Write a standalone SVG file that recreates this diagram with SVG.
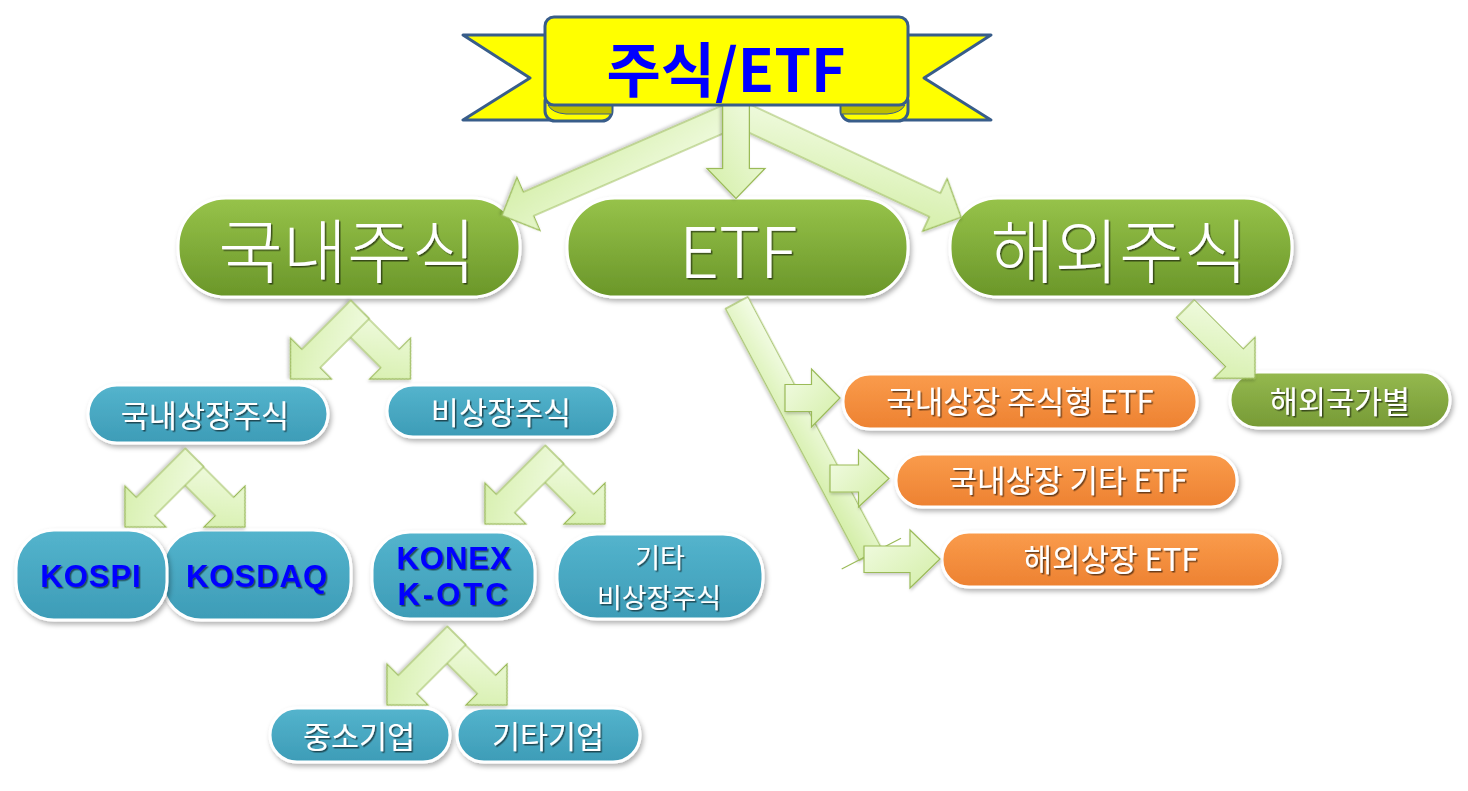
<svg xmlns="http://www.w3.org/2000/svg" width="1468" height="791" viewBox="0 0 1468 791">
<defs>
<linearGradient id="gGreen" x1="0" y1="0" x2="0" y2="1"><stop offset="0" stop-color="#97c34a"/><stop offset="1" stop-color="#6a9629"/></linearGradient>
<linearGradient id="gGreen2" x1="0" y1="0" x2="0" y2="1"><stop offset="0" stop-color="#95b94f"/><stop offset="1" stop-color="#769a35"/></linearGradient>
<linearGradient id="gBlue" x1="0" y1="0" x2="0" y2="1"><stop offset="0" stop-color="#54b4cd"/><stop offset="1" stop-color="#3d9cb7"/></linearGradient>
<linearGradient id="gOrange" x1="0" y1="0" x2="0" y2="1"><stop offset="0" stop-color="#fa9c4c"/><stop offset="1" stop-color="#ed8131"/></linearGradient>
<linearGradient id="gArrow" x1="0" y1="0" x2="1" y2="1"><stop offset="0" stop-color="#f3fce6"/><stop offset="1" stop-color="#d3eea6"/></linearGradient>
<filter id="nodeShadow" x="-10%" y="-20%" width="125%" height="150%"><feDropShadow dx="2" dy="3" stdDeviation="2.5" flood-color="#000" flood-opacity="0.3"/></filter>
<filter id="txtShadow" x="-5%" y="-10%" width="115%" height="130%"><feDropShadow dx="1.5" dy="1.5" stdDeviation="0.7" flood-color="#000" flood-opacity="0.55"/></filter>
<filter id="arrShadow" x="-10%" y="-10%" width="130%" height="130%"><feDropShadow dx="1" dy="2" stdDeviation="1.5" flood-color="#000" flood-opacity="0.2"/></filter>
<path id="splitR" d="M0,-13 H49.5 V-29 L78.5,0 L49.5,29 V13 H0 Z"/>
<path id="splitL" d="M0,-13 H69.3 V-29 L98.3,0 L69.3,29 V13 H0 Z"/>
</defs>
<style>
.node{stroke:#fff;stroke-width:3;filter:url(#nodeShadow)}
.green{fill:url(#gGreen)}
.green2{fill:url(#gGreen2)}
.blue{fill:url(#gBlue)}
.orange{fill:url(#gOrange)}
.lbl{font-family:"Noto Sans CJK KR","Noto Sans",sans-serif;fill:#fff;text-anchor:middle;dominant-baseline:central;filter:url(#txtShadow)}
.big{font-size:70px;font-weight:300}
.mid{font-size:30.5px}
.two{font-size:27px}
.ora{font-size:31px}
.bold{font-family:"Liberation Sans",Arial,sans-serif;font-weight:bold;fill:#0000ff;font-size:31px;text-anchor:middle;letter-spacing:1px;filter:url(#txtShadow)}
.arr{fill:url(#gArrow);stroke:#9bbb59;stroke-width:1.2;filter:url(#arrShadow)}
.ban{fill:#ffff00;stroke:#385d8a;stroke-width:3;stroke-linejoin:round}
.title{font-family:"Noto Sans CJK KR","Noto Sans",sans-serif;font-weight:bold;font-size:59px;fill:#0000ff;text-anchor:middle;dominant-baseline:central}
</style>

<g id="node-domestic">
<rect class="node green" x="178" y="198" width="342" height="99" rx="48"/>
<text class="lbl big" x="347" y="247">국내주식</text>
</g>
<g id="node-etf">
<rect class="node green" x="567" y="198" width="341" height="99" rx="48"/>
<text class="lbl big" x="738" y="247">ETF</text>
</g>
<g id="node-overseas">
<rect class="node green" x="950" y="198" width="342" height="99" rx="48"/>
<text class="lbl big" x="1119" y="247">해외주식</text>
</g>
<g id="node-listed">
<rect class="node blue" x="88" y="385" width="240" height="58" rx="29"/>
<text class="lbl mid" x="205" y="414">국내상장주식</text>
</g>
<g id="node-unlisted">
<rect class="node blue" x="387" y="385" width="228" height="52" rx="26"/>
<text class="lbl mid" x="501" y="411">비상장주식</text>
</g>
<g id="node-kosdaq">
<rect class="node blue" x="163" y="530" width="188" height="90" rx="38"/>
<text class="bold" x="257" y="587">KOSDAQ</text>
</g>
<g id="node-kospi">
<rect class="node blue" x="16" y="530" width="151" height="90" rx="38"/>
<text class="bold" x="91" y="587">KOSPI</text>
</g>
<g id="node-konex">
<rect class="node blue" x="372" y="532" width="163" height="87" rx="38"/>
<text class="bold" x="454" y="569">KONEX</text>
<text class="bold" x="454" y="605" style="letter-spacing:3px">K-OTC</text>
</g>
<g id="node-other-unlisted">
<rect class="node blue" x="557" y="534" width="206" height="85" rx="40"/>
<text class="lbl two" x="660" y="556">기타</text>
<text class="lbl two" x="659" y="596">비상장주식</text>
</g>
<g id="node-sme">
<rect class="node blue" x="270" y="708" width="180" height="54" rx="27"/>
<text class="lbl mid" x="359" y="735">중소기업</text>
</g>
<g id="node-other-corp">
<rect class="node blue" x="457" y="708" width="183" height="54" rx="27"/>
<text class="lbl mid" x="548" y="735">기타기업</text>
</g>
<g id="node-etf-dom-equity">
<rect class="node orange" x="843" y="374" width="354" height="55" rx="27"/>
<text class="lbl ora" x="1020" y="399">국내상장 주식형 ETF</text>
</g>
<g id="node-etf-dom-other">
<rect class="node orange" x="896" y="454" width="341" height="53" rx="26"/>
<text class="lbl ora" x="1068" y="478">국내상장 기타 ETF</text>
</g>
<g id="node-etf-overseas">
<rect class="node orange" x="942" y="532" width="338" height="55" rx="27"/>
<text class="lbl ora" x="1111" y="557">해외상장 ETF</text>
</g>
<g id="node-by-country">
<rect class="node green2" x="1230" y="372" width="220" height="56" rx="28"/>
<text class="lbl mid" x="1340" y="400">해외국가별</text>
</g>

<g id="connectors">
<path class="arr" transform="translate(740,112) rotate(156.5)" d="M0,-13 H230.6 V-29 L259.6,0 L230.6,29 V13 H0 Z"/>
<path class="arr" transform="translate(735.5,112) rotate(25)" d="M0,-13 H220 V-29 L249,0 L220,29 V13 H0 Z"/>
<path class="arr" transform="translate(736,100) rotate(90)" d="M0,-13.3 H68.5 V-29 L98.5,0 L68.5,29 V13.3 H0 Z"/>
<g transform="translate(350.5,295)">
<use href="#splitR" class="arr" transform="translate(4.5,28.5) rotate(45)"/>
<use href="#splitL" class="arr" transform="translate(9.5,14.5) rotate(135)"/>
</g>
<g transform="translate(185,443)">
<use href="#splitR" class="arr" transform="translate(4.5,28.5) rotate(45)"/>
<use href="#splitL" class="arr" transform="translate(9.5,14.5) rotate(135)"/>
</g>
<g transform="translate(545,440)">
<use href="#splitR" class="arr" transform="translate(4.5,28.5) rotate(45)"/>
<use href="#splitL" class="arr" transform="translate(9.5,14.5) rotate(135)"/>
</g>
<g transform="translate(447,621)">
<use href="#splitR" class="arr" transform="translate(4.5,28.5) rotate(45)"/>
<use href="#splitL" class="arr" transform="translate(9.5,14.5) rotate(135)"/>
</g>
<path class="arr" transform="translate(736.7,302.8) rotate(62)" d="M0,-12.75 H285 V12.75 H0 Z"/>
<path class="arr" d="M785,384.5 H811.5 V369 L840,398 L811.5,427 V411.5 H785 Z"/>
<path class="arr" d="M830,465 H858.5 V450 L889,478.5 L858.5,507 V492 H830 Z"/>
<line x1="841.7" y1="569" x2="901" y2="538.3" stroke="#9bbb59" stroke-width="1.2"/>
<path class="arr" d="M864,546 H910 V530 L940,559 L910,588 V572.5 H864 Z"/>
<path class="arr" transform="translate(1185.4,308.7) rotate(45)" d="M0,-12.5 H69.4 V-29 L98.4,0 L69.4,29 V12.5 H0 Z"/>
</g>

<g id="banner">
<path class="ban" d="M560,35 L463,35 L530,78 L463,120 L575,120 Z"/>
<path class="ban" d="M894,35 L991,35 L924,78 L991,120 L880,120 Z"/>
<rect class="ban" x="545" y="92" width="67" height="29" rx="10"/>
<rect class="ban" x="841" y="92" width="67" height="29" rx="10"/>
<path d="M548,105 Q552,113 566,114 L612,114 L612,105 Z" fill="#bdbd00" stroke="#385d8a" stroke-width="1"/>
<path d="M841,105 L841,114 L887,114 Q901,113 905,105 Z" fill="#bdbd00" stroke="#385d8a" stroke-width="1"/>
<rect class="ban" x="545" y="17" width="363" height="88" rx="9"/>
<text class="title" x="726" y="66">주식/ETF</text>
</g>
</svg>
